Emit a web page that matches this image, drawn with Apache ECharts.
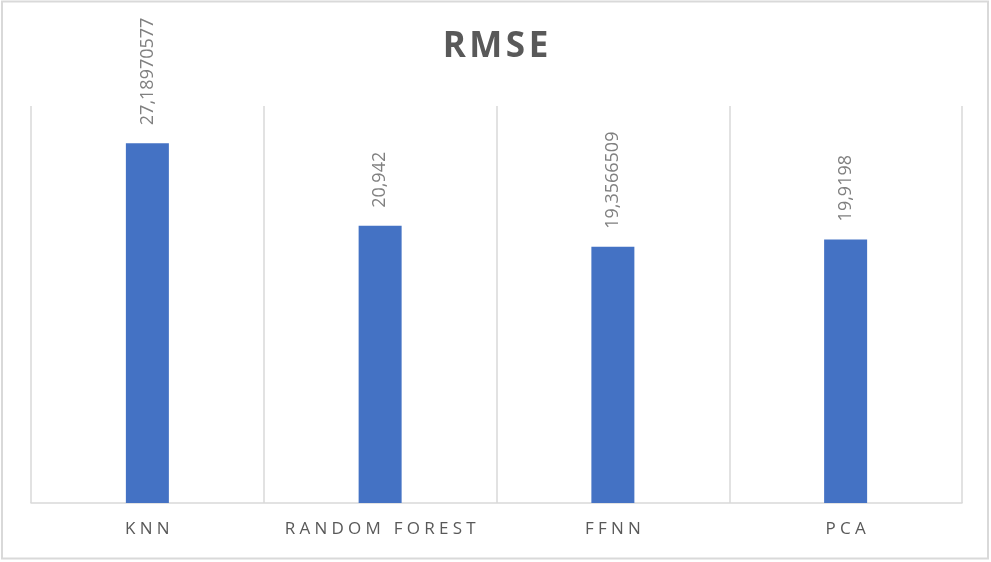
<!DOCTYPE html>
<html>
<head>
<meta charset="utf-8">
<script src="https://cdn.jsdelivr.net/npm/echarts@6/dist/echarts.min.js"></script>
<style>
  html, body { margin: 0; padding: 0; background: #fff; }
  #chart { width: 991px; height: 562px; }
</style>
</head>
<body>
<div id="chart"></div>
<script>
// chart data
var categories = ['KNN', 'RANDOM FOREST', 'FFNN', 'PCA'];
var rmseValues = [27.18970577, 20.942, 19.3566509, 19.9198];
var chartTitle = 'RMSE';

// spread letters like the original text
function spaced(s, gap) {
	return s.split('').join(gap);
}

var chart = echarts.init(document.getElementById('chart'));
chart.setOption({
	animation: false,
	backgroundColor: '#fff',
	title: {
		text: spaced(chartTitle, '\u200A'),
		left: 'center',
		top: 25,
		textStyle: {
			fontFamily: 'Open Sans',
			fontSize: 35,
			fontWeight: 'bold',
			color: '#595959'
		}
	},
	graphic: [{
		type: 'rect',
		shape: { x: 2, y: 1.5, width: 986, height: 557 },
		style: { fill: 'none', stroke: '#d9d9d9', lineWidth: 2 },
		silent: true
	}],
	grid: { left: 31, right: 29, top: 106, bottom: 59 },
	xAxis: {
		type: 'category',
		data: categories,
		axisLine: { show: true, lineStyle: { color: '#d9d9d9', width: 1.5 } },
		axisTick: { show: false },
		splitLine: { show: true, interval: 0, lineStyle: { color: '#d9d9d9', width: 1.5 } },
		axisLabel: {
			interval: 0,
			margin: 18,
			fontFamily: 'Open Sans',
			fontSize: 17,
			color: '#595959',
			formatter: function(v) { return spaced(v, '\u2005'); }
		}
	},
	yAxis: {
		type: 'value',
		min: 0,
		max: 30,
		show: false
	},
	series: [{
		type: 'bar',
		data: rmseValues,
		barWidth: 43,
		itemStyle: { color: '#4472C4' },
		label: {
			show: true,
			position: 'top',
			rotate: 90,
			align: 'left',
			verticalAlign: 'middle',
			distance: 18,
			fontFamily: 'Open Sans',
			fontSize: 18,
			color: '#808080',
			formatter: function(p) { return String(p.value).replace('.', ','); }
		}
	}]
});
</script>
</body>
</html>
